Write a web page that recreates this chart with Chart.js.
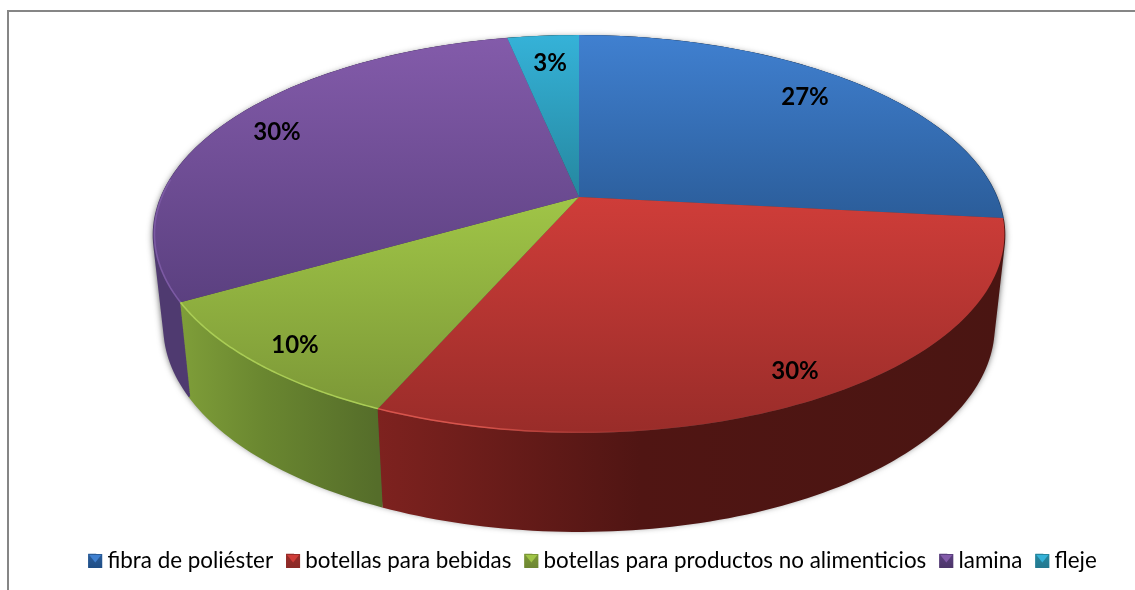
<!DOCTYPE html>
<html>
<head>
<meta charset="utf-8">
<title>Reciclaje PET</title>
<script src="https://cdn.jsdelivr.net/npm/chart.js@4/dist/chart.umd.min.js"></script>
<style>
  html, body { margin: 0; background: #fff; overflow: hidden; }
  #wrap { position: relative; width: 1135px; height: 590px; }
  #frame { position: absolute; left: 7px; top: 10px; right: 0; bottom: 0;
    border-top: 2px solid #868686; border-left: 2px solid #868686; }
  canvas { position: absolute; left: 0; top: 0; }
</style>
</head>
<body>
<div id="wrap">
  <div id="frame"></div>
  <canvas id="myChart" width="1135" height="590"></canvas>
</div>
<script>
//Chart data
const categories = ["fibra de poliéster", "botellas para bebidas", "botellas para productos no alimenticios", "lamina", "fleje"];
const shares = [26.7, 29.85, 10.15, 30.05, 3.25];

//Look of each slice: top face light/dark, side wall left/middle/right, rim highlight
const topLight = ["#4080d0", "#cf3d39", "#a0c547", "#835baa", "#35b2d8"];
const topDark = ["#2b5d9a", "#992c29", "#7c9837", "#5b4080", "#25879f"];
const sideLeft = ["#1d3f69", "#7e221f", "#7f9e39", "#4f3a70", "#1b6478"];
const sideMid = ["#1d3f69", "#501513", "#6a8730", "#4f3a70", "#1b6478"];
const sideRight = ["#1d3f69", "#4a1512", "#556d2a", "#4f3a70", "#1b6478"];
const rimColor = ["rgba(0,0,0,0)", "#d8544c", "#aacd55", "#7c5aa4", "rgba(0,0,0,0)"];
const legendEdge = ["#1f4e85", "#8a2926", "#6d8632", "#4c3569", "#23788f"];

//Where the percent text sits
const labelSpots = [[805, 97], [795, 371], [295, 345], [277, 132], [550, 63]];

//Perspective of the disc
const apexX = 579, apexY = 197;
const radiusX = 418, radiusY = 192, tilt = 0.186;
const wallDepth = 91, bottomScaleX = 0.975, bottomScaleY = 1.03;

//Angle on the flat disc -> point on the screen. u = 0 is top face, u = 1 is the bottom of the wall
function project(angle, r, u) {
  let X = r * Math.cos(angle), Y = r * Math.sin(angle);
  let w = 1 - tilt * Y;
  let sx = 1 + (bottomScaleX - 1) * u, sy = 1 + (bottomScaleY - 1) * u;
  return [apexX + (radiusX * X / w) * sx, apexY + (radiusY * Y / w) * sy + wallDepth * u];
}

function addRim(path, from, to, u) {
  let steps = Math.max(4, Math.ceil((to - from) / 0.02));
  for (let i = 0; i <= steps; i++) {
    let p = project(from + (to - from) * i / steps, 1, u);
    if (i == 0) path.moveTo(p[0], p[1]);
    else path.lineTo(p[0], p[1]);
  }
}

function addWedge(path, from, to, u) {
  let c = project(0, 0, u);
  path.moveTo(c[0], c[1]);
  let steps = Math.max(4, Math.ceil((to - from) / 0.02));
  for (let i = 0; i <= steps; i++) {
    let p = project(from + (to - from) * i / steps, 1, u);
    path.lineTo(p[0], p[1]);
  }
  path.closePath();
}

const disc3d = {
  id: "disc3d",
  beforeDatasetsDraw(chart) {
    let ctx = chart.ctx;
    let arcs = chart.getDatasetMeta(0).data;
    ctx.save();

    //soft shadow under the whole body
    let body = new Path2D();
    for (let u = 0; u <= 1; u += 0.05) {
      addWedge(body, -Math.PI / 2, Math.PI * 1.5, u);
    }
    ctx.shadowColor = "rgba(0,0,0,0.75)";
    ctx.shadowBlur = 7;
    ctx.shadowOffsetY = 3;
    ctx.fillStyle = "#444";
    ctx.fill(body);
    ctx.shadowColor = "transparent";
    ctx.shadowBlur = 0;
    ctx.shadowOffsetY = 0;

    //side walls, the rim curve swept from the bottom up
    arcs.forEach((arc, i) => {
      let a = project(arc.startAngle, 1, 0), b = project(arc.endAngle, 1, 0);
      let left = Math.min(a[0], b[0]), right = Math.max(a[0], b[0]);
      let grad = ctx.createLinearGradient(left, 0, right, 0);
      grad.addColorStop(0, sideLeft[i]);
      grad.addColorStop(0.42, sideMid[i]);
      grad.addColorStop(1, sideRight[i]);
      let wall = new Path2D();
      for (let u = 1; u >= 0; u -= 0.01) {
        addRim(wall, arc.startAngle, arc.endAngle, u);
      }
      ctx.strokeStyle = grad;
      ctx.lineWidth = 2;
      ctx.stroke(wall);
    });

    //top faces
    arcs.forEach((arc, i) => {
      let ys = [apexY];
      for (let s = 0; s <= 40; s++) {
        ys.push(project(arc.startAngle + (arc.endAngle - arc.startAngle) * s / 40, 1, 0)[1]);
      }
      let grad = ctx.createLinearGradient(0, Math.min(...ys), 0, Math.max(...ys));
      grad.addColorStop(0, topLight[i]);
      grad.addColorStop(1, topDark[i]);
      let face = new Path2D();
      addWedge(face, arc.startAngle, arc.endAngle, 0);
      ctx.fillStyle = grad;
      ctx.fill(face);
    });

    //light rim along the front edge, fades out toward the right
    arcs.forEach((arc, i) => {
      let rim = new Path2D();
      let steps = 80, started = false;
      for (let s = 0; s <= steps; s++) {
        let ang = arc.startAngle + (arc.endAngle - arc.startAngle) * s / steps;
        if (Math.sin(ang) < -0.1) continue;
        let p = project(ang, 0.998, 0);
        if (started) rim.lineTo(p[0], p[1]); else rim.moveTo(p[0], p[1]);
        started = true;
      }
      let grad = ctx.createLinearGradient(150, 0, 700, 0);
      grad.addColorStop(0, rimColor[i]);
      grad.addColorStop(0.6, rimColor[i]);
      grad.addColorStop(1, topDark[1] + "00");
      ctx.strokeStyle = grad;
      ctx.lineWidth = 1.5;
      ctx.stroke(rim);
    });

    //percent labels
    let total = shares.reduce((a, b) => a + b, 0);
    ctx.fillStyle = "#000";
    ctx.font = "bold 24px Lato";
    ctx.textAlign = "center";
    ctx.textBaseline = "middle";
    shares.forEach((v, i) => {
      ctx.fillText(Math.round(v / total * 100) + "%", labelSpots[i][0], labelSpots[i][1]);
    });
    ctx.restore();
    return false; //the library's flat arcs are replaced by the ones above
  },
  afterDraw(chart) {
    //small bevelled squares in the legend
    let ctx = chart.ctx;
    chart.legend.legendHitBoxes.forEach((box, i) => {
      let x = box.left, y = Math.round(box.top + box.height / 2 - 7), s = 14;
      let grad = ctx.createLinearGradient(0, y, 0, y + s);
      grad.addColorStop(0, topDark[i]);
      grad.addColorStop(1, legendEdge[i]);
      ctx.fillStyle = grad;
      ctx.fillRect(x, y, s, s);
      ctx.fillStyle = topLight[i];
      ctx.beginPath();
      ctx.moveTo(x + 1, y + 1);
      ctx.lineTo(x + s - 1, y + 1);
      ctx.lineTo(x + s / 2, y + s * 0.6);
      ctx.closePath();
      ctx.fill();
    });
  },
};

let ctx = document.getElementById("myChart").getContext("2d");
let myChart = new Chart(ctx, {
  type: "pie",
  data: {
    labels: categories,
    datasets: [{ data: shares, backgroundColor: topDark, borderWidth: 0 }],
  },
  options: {
    responsive: false,
    animation: false,
    layout: { padding: { left: 50, bottom: 8 } },
    plugins: {
      tooltip: { enabled: false },
      legend: {
        position: "bottom",
        labels: {
          boxWidth: 8,
          boxHeight: 14,
          padding: 13,
          color: "#000",
          font: { family: "Lato", size: 22.4 },
        },
      },
    },
  },
  plugins: [disc3d],
});
</script>
</body>
</html>
